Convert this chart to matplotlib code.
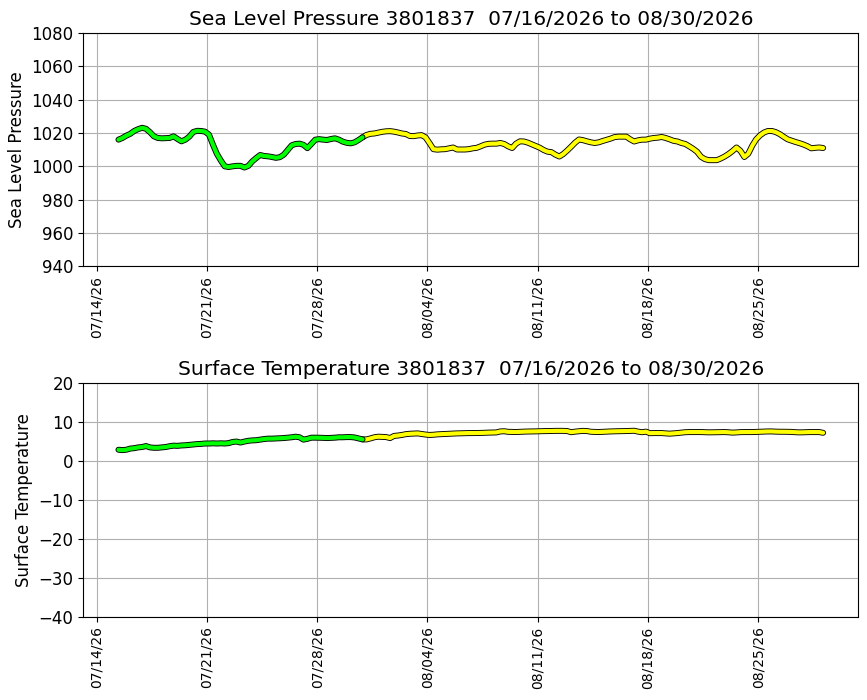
import numpy as np
import pandas as pd
import matplotlib
matplotlib.use("Agg")
import matplotlib.pyplot as plt
import matplotlib.dates as mdates
import matplotlib.patheffects as pe

station = "3801837"
start_time = "2026-07-15 09:00"
step = "6h"
split_time = "2026-07-31 00:00"

pressure = [
    1016.0, 1017.0, 1018.4, 1019.5, 1021.2, 1022.3, 1023.1, 1022.5, 1020.5, 1018.0,
    1017.0, 1016.8, 1016.9, 1017.0, 1018.0, 1016.4, 1015.0, 1016.0, 1017.8, 1020.6,
    1021.3, 1021.2, 1020.8, 1019.0, 1013.0, 1007.5, 1003.5, 1000.0, 999.6, 1000.0,
    1000.3, 1000.3, 999.3, 1000.3, 1003.0, 1005.0, 1006.8,
    1006.2, 1006.0, 1005.6, 1005.1, 1005.5, 1007.0, 1009.8, 1012.6, 1013.4, 1013.6,
    1012.9, 1010.9, 1013.4, 1016.0, 1016.3, 1016.0, 1015.8, 1016.4, 1016.8, 1016.0,
    1014.8, 1014.1, 1013.8, 1014.4, 1015.8, 1017.4, 1018.8, 1019.5, 1019.7, 1020.2,
    1020.7, 1021.0, 1021.1, 1020.8, 1020.3, 1019.7, 1019.4,
    1018.2, 1018.1, 1018.5, 1018.7, 1017.4, 1014.0, 1010.3, 1010.0, 1010.2, 1010.3,
    1010.8, 1011.3, 1010.1, 1010.1, 1010.1, 1010.3, 1010.8, 1011.1, 1012.0, 1013.0,
    1013.5, 1013.6, 1013.6, 1014.0, 1013.4, 1012.0, 1011.0, 1013.6, 1015.0, 1014.9,
    1014.2, 1013.2, 1012.2, 1011.2, 1009.8, 1008.8,
    1008.5, 1007.0, 1005.9, 1007.4, 1009.5, 1011.8, 1014.2, 1016.1, 1015.7, 1015.0,
    1014.4, 1014.0, 1014.4, 1015.2, 1015.9, 1016.6, 1017.5, 1017.8, 1017.8, 1017.8,
    1016.2, 1014.9, 1015.6, 1016.0, 1016.0, 1016.6, 1017.0, 1017.2, 1017.6, 1017.0,
    1016.2, 1015.3, 1014.9, 1014.0, 1013.4, 1012.0, 1010.5,
    1008.7, 1005.7, 1004.3, 1003.7, 1003.7, 1003.7, 1004.7, 1005.9, 1007.4, 1009.2,
    1011.3, 1009.3, 1005.6, 1007.6, 1012.4, 1016.2, 1018.6, 1020.3, 1021.2, 1021.2,
    1020.5, 1019.3, 1017.7, 1016.2, 1015.4, 1014.6, 1013.9, 1013.1, 1012.1, 1010.8,
    1011.1, 1011.3, 1011.0,
]

temperature = [
    2.9, 2.8, 2.9, 3.2, 3.3, 3.5, 3.6, 3.85, 3.5, 3.4,
    3.4, 3.5, 3.6, 3.8, 3.95, 3.9, 4.0, 4.05, 4.15, 4.25,
    4.35, 4.4, 4.5, 4.5, 4.55, 4.5, 4.55, 4.5, 4.6, 4.9,
    5.0, 4.75, 5.0, 5.2, 5.3, 5.35, 5.5, 5.65, 5.75, 5.75,
    5.8, 5.85, 5.9, 6.0, 6.1, 6.25, 6.1, 5.5, 5.7, 6.0,
    6.0, 5.98, 5.95, 5.9, 5.95, 6.0, 6.1, 6.1, 6.15,
    6.15, 6.05, 5.8, 5.56, 5.55, 5.8, 6.1, 6.25, 6.2, 6.15,
    5.9, 6.45, 6.55, 6.7, 6.9, 7.0, 7.05, 7.1, 6.95, 6.8,
    6.7, 6.75, 6.85, 6.9, 6.95, 7.0, 7.05, 7.1, 7.12, 7.15,
    7.18, 7.18, 7.2, 7.22, 7.25, 7.3, 7.32, 7.35, 7.6, 7.65,
    7.5, 7.48, 7.45, 7.5, 7.55, 7.58, 7.6, 7.62, 7.65, 7.68,
    7.7, 7.72, 7.75, 7.75, 7.75, 7.7, 7.4, 7.55, 7.65, 7.75,
    7.7,
    7.52, 7.48, 7.45, 7.5, 7.55, 7.6, 7.63, 7.66, 7.68, 7.7,
    7.74, 7.78, 7.55, 7.4, 7.55, 7.15, 7.18, 7.18, 7.18, 7.1,
    7.03, 7.1, 7.18, 7.3, 7.4, 7.44, 7.44, 7.44, 7.44, 7.4,
    7.37, 7.38, 7.4, 7.42, 7.44, 7.38, 7.3, 7.35, 7.42, 7.44,
    7.44, 7.44, 7.48, 7.52, 7.56, 7.6, 7.6, 7.55, 7.52, 7.52,
    7.5, 7.48, 7.4, 7.36, 7.38, 7.42, 7.44, 7.44, 7.44, 7.25,
]

times = pd.date_range(start_time, periods=len(pressure), freq=step)
n_old = int((times < pd.Timestamp(split_time)).sum())

panels = [
    ("Sea Level Pressure", np.array(pressure), (940, 1080)),
    ("Surface Temperature", np.array(temperature), (-40, 20)),
]

outline = [pe.Stroke(linewidth=4.3, foreground="black"), pe.Normal()]

fig, axes = plt.subplots(2, 1, figsize=(8.67, 7.0), dpi=100)
fig.subplots_adjust(left=0.096, right=0.99, top=0.953, bottom=0.119, hspace=0.5)

for ax, (name, vals, ylim) in zip(axes, panels):
    # recent part first, older part on top of the joint
    ax.plot(times[n_old - 1:], vals[n_old - 1:], color="yellow", lw=3.0,
            solid_capstyle="round", solid_joinstyle="round",
            path_effects=outline, zorder=3)
    ax.plot(times[:n_old], vals[:n_old], color="lime", lw=3.0,
            solid_capstyle="round", solid_joinstyle="round",
            path_effects=outline, zorder=3)
    ax.set_ylim(*ylim)
    ax.set_title(f"{name} {station}  07/16/2026 to 08/30/2026", fontsize=14.5)
    ax.set_ylabel(name, fontsize=12)
    ax.xaxis.set_major_locator(mdates.WeekdayLocator(byweekday=mdates.TU))
    ax.xaxis.set_major_formatter(mdates.DateFormatter("%m/%d/%y"))
    ax.tick_params(axis="x", labelrotation=90, labelsize=10)
    ax.tick_params(axis="y", labelsize=12)
    ax.grid(True)
    ax.set_axisbelow(True)

plt.savefig("out.png", dpi=100)
